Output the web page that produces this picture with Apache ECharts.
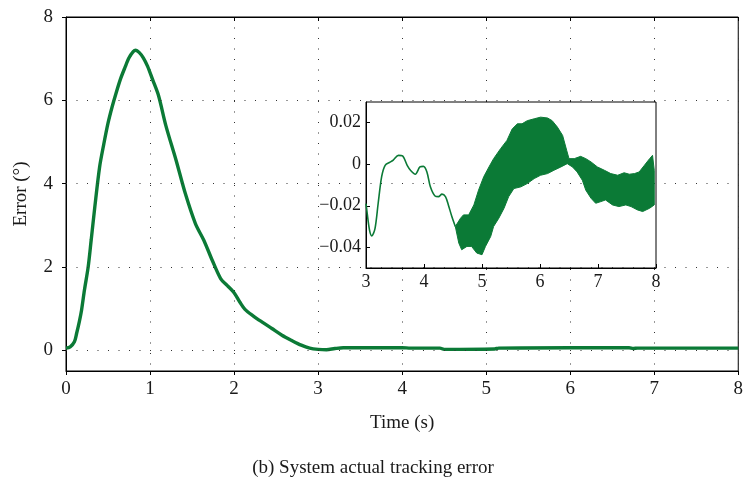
<!DOCTYPE html>
<html>
<head>
<meta charset="utf-8">
<script src="https://cdn.jsdelivr.net/npm/echarts@6/dist/echarts.min.js"></script>
<style>html,body{margin:0;padding:0;background:#fff}#c{width:746px;height:480px}</style>
</head>
<body>
<div id="c"></div>
<script>
// ---- Data ----
var mainT = [0, 0.05, 0.1, 0.126, 0.16, 0.185, 0.22, 0.264, 0.3, 0.343, 0.4, 0.45, 0.5, 0.55, 0.6, 0.65, 0.7, 0.75, 0.8, 0.83, 0.87, 0.92, 0.97, 1.03, 1.1, 1.19, 1.31, 1.42, 1.54, 1.64, 1.74, 1.84, 1.92, 2.0, 2.07, 2.13, 2.23, 2.33, 2.45, 2.57, 2.68, 2.8, 2.9, 3.0, 3.1, 3.2, 3.3, 3.6, 4.0, 4.1, 4.45, 4.5, 5.1, 5.15, 6.0, 6.7, 6.75, 6.8, 8.0];
var mainErr = [0.05, 0.08, 0.2, 0.4, 0.7, 0.96, 1.45, 2.0, 2.65, 3.44, 4.4, 4.95, 5.45, 5.85, 6.2, 6.52, 6.78, 7.02, 7.17, 7.2, 7.15, 7.02, 6.82, 6.5, 6.12, 5.38, 4.56, 3.76, 3.04, 2.64, 2.16, 1.72, 1.55, 1.38, 1.15, 0.98, 0.82, 0.68, 0.52, 0.36, 0.24, 0.12, 0.05, 0.02, 0.01, 0.04, 0.06, 0.06, 0.06, 0.05, 0.05, 0.02, 0.03, 0.05, 0.06, 0.06, 0.04, 0.05, 0.05];

var insetLineT = [3.0, 3.01, 3.06, 3.1, 3.155, 3.21, 3.27, 3.33, 3.415, 3.47, 3.56, 3.63, 3.71, 3.77, 3.85, 3.93, 3.99, 4.05, 4.11, 4.19, 4.25, 4.31, 4.37, 4.42, 4.48, 4.54];
var insetLineErr = [-0.019, -0.0212, -0.0316, -0.0345, -0.031, -0.0188, -0.006, -0.0005, 0.001, 0.002, 0.0043, 0.004, -0.0005, -0.003, -0.0048, -0.0013, -0.001, -0.0037, -0.0109, -0.0153, -0.0156, -0.0144, -0.0156, -0.0196, -0.0252, -0.030];

var bandUpperT = [4.54, 4.63, 4.68, 4.77, 4.86, 4.94, 5.03, 5.12, 5.2, 5.32, 5.43, 5.52, 5.61, 5.69, 5.78, 5.9, 6.01, 6.13, 6.21, 6.3, 6.39, 6.46, 6.5, 6.59, 6.7, 6.79, 6.88, 6.99, 7.11, 7.22, 7.34, 7.45, 7.54, 7.63, 7.71, 7.8, 7.89, 7.94, 7.97];
var bandUpperErr = [-0.030, -0.026, -0.0244, -0.0244, -0.0196, -0.0125, -0.006, -0.0013, 0.0027, 0.0075, 0.0115, 0.017, 0.0195, 0.0195, 0.021, 0.0219, 0.0227, 0.0223, 0.021, 0.0179, 0.0139, 0.0067, 0.0027, 0.0027, 0.0038, 0.0027, 0.0011, -0.0013, -0.0029, -0.0045, -0.0053, -0.0041, -0.0048, -0.0045, -0.0037, -0.0005, 0.0027, 0.0043, -0.0029];
var bandLowerT = [4.54, 4.6, 4.65, 4.74, 4.82, 4.91, 5.0, 5.06, 5.15, 5.2, 5.29, 5.38, 5.46, 5.55, 5.67, 5.78, 5.9, 6.01, 6.13, 6.24, 6.36, 6.47, 6.56, 6.64, 6.73, 6.79, 6.88, 6.96, 7.05, 7.13, 7.25, 7.36, 7.48, 7.57, 7.68, 7.77, 7.89, 7.97];
var bandLowerErr = [-0.030, -0.038, -0.0412, -0.0396, -0.0396, -0.0428, -0.0436, -0.0396, -0.0348, -0.030, -0.026, -0.0212, -0.0156, -0.0117, -0.0109, -0.0093, -0.0069, -0.0053, -0.0045, -0.0029, -0.0013, 0.0003, -0.0013, -0.0037, -0.0077, -0.0125, -0.0164, -0.0188, -0.018, -0.0172, -0.0196, -0.0204, -0.0196, -0.0204, -0.022, -0.0228, -0.0212, -0.0196];

var mainYTicks = [0, 2, 4, 6, 8];
var mainYGrid = [0, 2, 4, 6];
var insetYTicks = [-0.04, -0.02, 0, 0.02];

var xTitle = 'Time (s)';
var yTitle = 'Error (°)';
var caption = '(b) System actual tracking error';

// ---- Build ----
function zip(a, b) { return a.map(function (v, i) { return [v, b[i]]; }); }
var GREEN = '#0b7a36';
var FONT = 'Liberation Serif';
var TXT = '#1a1a1a';
var dotted = { color: '#333', width: 1, type: [1, 9.5] };

var chart = echarts.init(document.getElementById('c'), null, { renderer: 'canvas' });
chart.setOption({
  backgroundColor: '#fff',
  animation: false,
  textStyle: { fontFamily: FONT },
  title: {
    text: caption, left: 'center', top: 454,
    textStyle: { fontFamily: FONT, fontSize: 19, fontWeight: 'normal', color: TXT }
  },
  grid: [
    { left: 66, right: 4, top: 17, bottom: 109, show: true, borderColor: '#000', borderWidth: 1, backgroundColor: 'transparent', z: 0 },
    { left: 366, right: 90, top: 102, bottom: 212, show: true, borderColor: '#000', borderWidth: 1, backgroundColor: '#fff', z: 3 }
  ],
  xAxis: [
    {
      gridIndex: 0, type: 'value', min: 0, max: 8, interval: 1, position: 'bottom',
      name: xTitle, nameLocation: 'middle', nameGap: 43,
      nameTextStyle: { fontFamily: FONT, fontSize: 19, color: TXT },
      axisLine: { onZero: false, lineStyle: { color: '#000', width: 1 } },
      axisTick: { inside: false, length: 4, lineStyle: { color: '#000' } },
      axisLabel: { fontFamily: FONT, fontSize: 19, color: TXT, margin: 9 },
      splitLine: { show: true, lineStyle: dotted }
    },
    {
      gridIndex: 0, type: 'value', min: 0, max: 8, interval: 1, position: 'top',
      axisLine: { show: true, onZero: false, lineStyle: { color: '#000' } },
      axisTick: { inside: true, length: 4, lineStyle: { color: '#000' } },
      axisLabel: { show: false }, splitLine: { show: false }
    },
    {
      gridIndex: 1, type: 'value', min: 3, max: 8, interval: 1, z: 5, position: 'bottom',
      axisLine: { onZero: false, lineStyle: { color: '#000', width: 1 } },
      axisTick: { inside: true, length: 4, lineStyle: { color: '#000' } },
      axisLabel: { fontFamily: FONT, fontSize: 18, color: TXT, margin: 5 },
      splitLine: { show: false }
    }
  ],
  yAxis: [
    {
      gridIndex: 0, type: 'value', min: -0.5, max: 8,
      name: yTitle, nameLocation: 'middle', nameGap: 35, nameRotate: 90,
      nameTextStyle: { fontFamily: FONT, fontSize: 19, color: TXT },
      axisLine: { show: true, onZero: false, lineStyle: { color: '#000', width: 1 } },
      axisTick: { show: true, inside: false, length: 4, customValues: mainYTicks, lineStyle: { color: '#000' } },
      axisLabel: { fontFamily: FONT, fontSize: 19, color: TXT, margin: 13, customValues: mainYTicks },
      splitLine: { show: false }
    },
    {
      gridIndex: 1, type: 'value', min: -0.05, max: 0.03, z: 5,
      axisLine: { show: true, onZero: false, lineStyle: { color: '#000', width: 1 } },
      axisTick: { show: true, inside: true, length: 4, customValues: insetYTicks, lineStyle: { color: '#000' } },
      axisLabel: {
        fontFamily: FONT, fontSize: 18, color: TXT, margin: 5, customValues: insetYTicks,
        formatter: function (v) { var r = Math.round(v * 100) / 100; return r === 0 ? '0' : String(r).replace('-', '\u2212'); }
      },
      splitLine: { show: false }
    }
  ],
  series: [
    {
      type: 'line', xAxisIndex: 0, yAxisIndex: 0, data: [], z: 1, silent: true,
      markLine: {
        silent: true, symbol: 'none', label: { show: false }, animation: false,
        lineStyle: dotted,
        data: mainYGrid.map(function (v) { return { yAxis: v }; })
      }
    },
    {
      type: 'line', xAxisIndex: 0, yAxisIndex: 0, data: zip(mainT, mainErr),
      showSymbol: false, smooth: 0.3, z: 2,
      lineStyle: { color: GREEN, width: 3.4 }, itemStyle: { color: GREEN }
    },
    {
      type: 'line', xAxisIndex: 2, yAxisIndex: 1, data: zip(insetLineT, insetLineErr),
      showSymbol: false, smooth: 0.3, z: 6,
      lineStyle: { color: GREEN, width: 1.6 }, itemStyle: { color: GREEN }
    },
    {
      type: 'custom', xAxisIndex: 2, yAxisIndex: 1, z: 6,
      data: zip(bandUpperT, bandUpperErr),
      renderItem: function (params, api) {
        if (params.dataIndex !== 0) return null;
        var pts = [];
        for (var i = 0; i < bandUpperT.length; i++) pts.push(api.coord([bandUpperT[i], bandUpperErr[i]]));
        for (var j = bandLowerT.length - 1; j >= 0; j--) pts.push(api.coord([bandLowerT[j], bandLowerErr[j]]));
        return {
          type: 'polygon', shape: { points: pts },
          style: { fill: GREEN, stroke: GREEN, lineWidth: 1 }
        };
      }
    }
  ]
});
</script>
</body>
</html>
